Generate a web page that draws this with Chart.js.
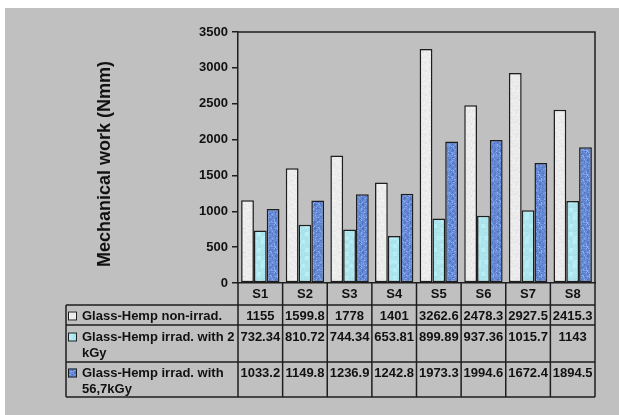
<!DOCTYPE html>
<html>
<head>
<meta charset="utf-8">
<style>
  html, body { margin: 0; padding: 0; background: #ffffff; }
  #wrap { position: absolute; left: 5px; top: 8px; width: 614px; height: 407px; background: #c0c0c0; }
  canvas { display: block; }
</style>
<script src="https://cdn.jsdelivr.net/npm/chart.js@4/dist/chart.umd.min.js"></script>
</head>
<body>
<div id="wrap"><canvas id="chart" width="614" height="407"></canvas></div>
<script>
// Samples and measured mechanical work (Nmm)
const categories = ['S1', 'S2', 'S3', 'S4', 'S5', 'S6', 'S7', 'S8'];
const seriesNames = [
  'Glass-Hemp non-irrad.',
  'Glass-Hemp irrad. with 2 kGy',
  'Glass-Hemp irrad. with 56,7kGy'
];
const nonIrrad = [1155, 1599.8, 1778, 1401, 3262.6, 2478.3, 2927.5, 2415.3];
const irrad2kGy = [732.34, 810.72, 744.34, 653.81, 899.89, 937.36, 1015.7, 1143];
const irrad56kGy = [1033.2, 1149.8, 1236.9, 1242.8, 1973.3, 1994.6, 1672.4, 1894.5];
const yTicks = [0, 500, 1000, 1500, 2000, 2500, 3000, 3500];
const yTitle = 'Mechanical work (Nmm)';

const FONT = '"Liberation Sans", Arial, sans-serif';
const INK = '#1e1e1e';

// Small deterministic hash used for the surface textures of the bars
function hash(x, y) {
  const s = Math.sin(x * 12.9898 + y * 78.233) * 43758.5453;
  return s - Math.floor(s);
}

function texture(kind) {
  const size = 24;
  const cv = document.createElement('canvas');
  cv.width = size; cv.height = size;
  const g = cv.getContext('2d');
  const img = g.createImageData(size, size);
  for (let y = 0; y < size; y++) {
    for (let x = 0; x < size; x++) {
      const n = hash(x + 1, y + 7) - 0.5;
      let r, gg, b;
      if (kind === 'paper') {
        const v = 236 + n * 16;
        r = v; gg = v; b = v;
      } else if (kind === 'water') {
        const spot = hash(Math.floor(x / 4), Math.floor(y / 4) + 3) > 0.7 ? 10 : 0;
        r = 172 + n * 14 + spot; gg = 228 + n * 10 + spot; b = 236 + n * 8 + spot;
      } else {
        const weave = ((x + (y % 6 < 3 ? 0 : 3)) % 6 < 2) ? -16 : 0;
        const fleck = hash(x + 11, y + 2) > 0.85 ? 35 : 0;
        r = 104 + n * 24 + weave + fleck; gg = 140 + n * 24 + weave + fleck; b = 212 + n * 18 + weave * 0.6 + fleck;
      }
      const i = (y * size + x) * 4;
      img.data[i] = r; img.data[i + 1] = gg; img.data[i + 2] = b; img.data[i + 3] = 255;
    }
  }
  g.putImageData(img, 0, 0);
  return document.getElementById('chart').getContext('2d').createPattern(cv, 'repeat');
}

const fills = [texture('paper'), texture('water'), texture('denim')];
const seriesValues = [nonIrrad, irrad2kGy, irrad56kGy];

// Draws the y title, the frame of the plot and the data table under the bars
const tablePlugin = {
  id: 'dataTable',
  afterDraw(chart) {
    const ctx = chart.ctx;
    const area = chart.chartArea;
    const xs = chart.scales.x;
    const colW = (area.right - area.left) / categories.length;
    const tableLeft = 61;
    const rows = { header: area.bottom, r1: area.bottom + 22, r2: area.bottom + 42, r3: area.bottom + 79, end: area.bottom + 114 };
    const rowTextY = [rows.r1 + 11, rows.r2 + 12, rows.r3 + 11];
    const lineH = 16;

    ctx.save();
    // y title
    ctx.font = 'bold 18px ' + FONT;
    ctx.fillStyle = '#111';
    ctx.textAlign = 'center';
    ctx.textBaseline = 'middle';
    ctx.translate(100, 156);
    ctx.rotate(-Math.PI / 2);
    ctx.fillText(yTitle, 0, 0);
    ctx.restore();

    ctx.save();
    ctx.strokeStyle = INK;
    ctx.lineWidth = 1.5;
    // plot frame top and right
    ctx.beginPath();
    ctx.moveTo(area.left, area.top);
    ctx.lineTo(area.right, area.top);
    ctx.lineTo(area.right, area.bottom);
    ctx.stroke();

    // table grid
    ctx.beginPath();
    [rows.r1, rows.r2, rows.r3, rows.end].forEach(y => {
      ctx.moveTo(tableLeft, y); ctx.lineTo(area.right, y);
    });
    ctx.moveTo(tableLeft, rows.r1); ctx.lineTo(tableLeft, rows.end);
    for (let i = 0; i <= categories.length; i++) {
      const x = i < categories.length ? xs.getPixelForValue(i) - colW / 2 : area.right;
      ctx.moveTo(x, rows.header); ctx.lineTo(x, rows.end);
    }
    ctx.stroke();

    ctx.font = 'bold 13px ' + FONT;
    ctx.fillStyle = '#111';
    ctx.textBaseline = 'middle';
    ctx.textAlign = 'center';
    categories.forEach((c, i) => ctx.fillText(c, xs.getPixelForValue(i), rows.header + 11));

    seriesValues.forEach((vals, s) => {
      vals.forEach((v, i) => ctx.fillText(String(v), xs.getPixelForValue(i), rowTextY[s]));
    });

    // series names with swatches
    ctx.textAlign = 'left';
    const textX = 77;
    const maxW = area.left - textX - 2;
    seriesNames.forEach((name, s) => {
      const words = name.split(' ');
      const lines = [];
      let cur = '';
      words.forEach(w => {
        const test = cur ? cur + ' ' + w : w;
        if (ctx.measureText(test).width > maxW && cur) { lines.push(cur); cur = w; }
        else cur = test;
      });
      lines.push(cur);
      lines.forEach((ln, k) => ctx.fillText(ln, textX, rowTextY[s] + k * lineH));
      const sy = rowTextY[s] - 4.5;
      ctx.fillStyle = fills[s];
      ctx.fillRect(63, sy, 9, 9);
      ctx.lineWidth = 1;
      ctx.strokeStyle = INK;
      ctx.strokeRect(63.5, sy + 0.5, 8, 8);
      ctx.fillStyle = '#111';
    });
    ctx.restore();
  }
};

new Chart(document.getElementById('chart'), {
  type: 'bar',
  data: {
    labels: categories,
    datasets: seriesNames.map((name, s) => ({
      label: name,
      data: seriesValues[s],
      backgroundColor: fills[s],
      borderColor: INK,
      borderWidth: 1.5,
      borderSkipped: false,
      categoryPercentage: 0.86,
      barPercentage: 1.0
    }))
  },
  options: {
    responsive: false,
    animation: false,
    events: [],
    layout: { padding: { left: 0, right: 24, top: 24, bottom: 132 } },
    plugins: { legend: { display: false }, tooltip: { enabled: false }, title: { display: false } },
    scales: {
      x: {
        grid: { display: false },
        ticks: { display: false },
        border: { display: true, color: INK, width: 1.5 },
        afterFit(scale) { scale.height = 0; }
      },
      y: {
        min: 0,
        max: 3500,
        afterBuildTicks(scale) { scale.ticks = yTicks.map(v => ({ value: v })); },
        ticks: {
          color: '#111',
          font: { family: FONT, size: 13, weight: 'bold' },
          padding: 4,
          callback: v => String(v)
        },
        grid: { drawOnChartArea: false, drawTicks: true, tickLength: 6, color: INK, lineWidth: 1.5 },
        border: { display: true, color: INK, width: 1.5 },
        afterFit(scale) { scale.width = 233; }
      }
    }
  },
  plugins: [tablePlugin]
});
</script>
</body>
</html>
